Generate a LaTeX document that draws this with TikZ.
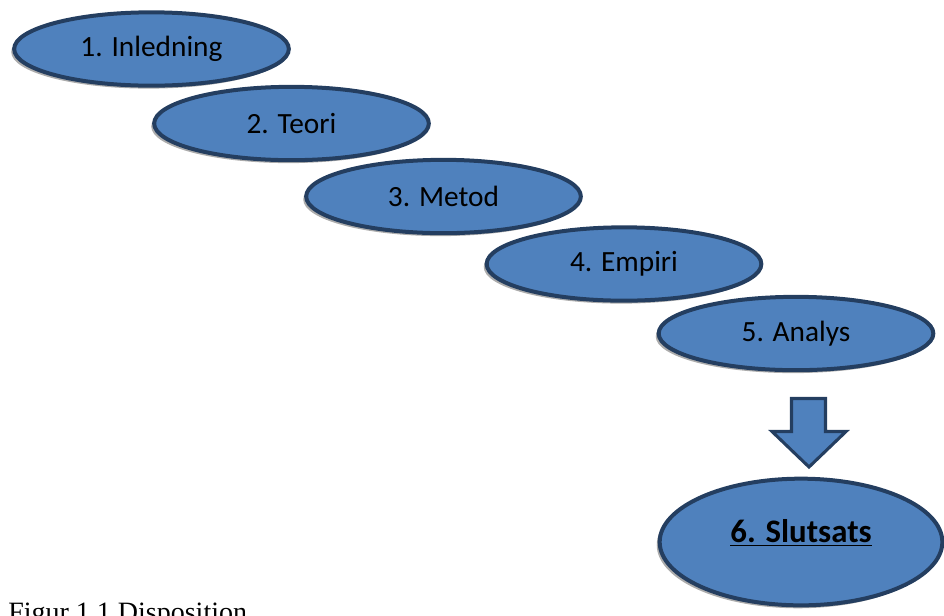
\documentclass[tikz,border=0pt]{standalone}
\usepackage{fontspec}
\setmainfont{Liberation Serif}
\newfontfamily\calibri{Carlito}
\usepackage{tikz}
\usetikzlibrary{shapes,shadows}
\definecolor{phasefill}{RGB}{79,129,189}
\definecolor{phaseline}{RGB}{36,62,96}
\tikzstyle{phase} = [draw=phaseline, fill=phasefill, ellipse, line width=3pt, inner sep=0pt,
  minimum width=206pt, minimum height=55pt, font=\calibri\fontsize{22}{26}\selectfont,
  drop shadow={shadow xshift=-2.2pt, shadow yshift=-2.2pt, fill=gray!65, opacity=1}]
\tikzstyle{blockarrow} = [draw=phaseline, fill=phasefill, line width=2.3pt, line join=miter]

\begin{document}
\begin{tikzpicture}[x=0.75pt,y=-0.75pt]
\useasboundingbox (0,0) rectangle (944,615);

\node[phase] (1) at (151.5,49) {1. Inledning};
\node[phase] (2) at (291.5,123.5) {2. Teori};
\node[phase] (3) at (443.5,196.5) {3. Metod};
\node[phase] (4) at (624,264) {4. Empiri};
\node[phase] (5) at (796,333.5) {5. Analys};
\node[phase, minimum width=212pt, minimum height=95pt,
  font=\calibri\bfseries\fontsize{24.6}{28}\selectfont] (6) at (801,542)
  {\raisebox{16pt}{\underline{6. Slutsats}}};

% block arrow from 5 to 6
\draw[blockarrow] (791.5,398.5) -- (825.5,398.5) -- (825.5,431.5) -- (846,431.5)
  -- (809,467) -- (772,431.5) -- (791.5,431.5) -- cycle;

\node[anchor=base west, inner sep=0pt, font=\fontsize{21}{25}\selectfont] (caption) at (8,621.5)
  {Figur 1.1 Disposition};
\end{tikzpicture}
\end{document}
